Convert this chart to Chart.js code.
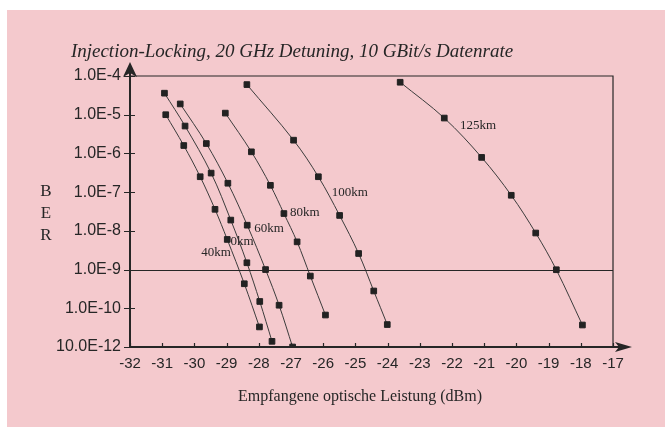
<!DOCTYPE html>
<html>
<head>
<meta charset="utf-8">
<script src="https://cdn.jsdelivr.net/npm/chart.js@4.4.1/dist/chart.umd.min.js"></script>
<style>
    html, body { margin: 0; padding: 0; background: #fff; }
    canvas { display: block; }
</style>
</head>
<body>
<canvas id="ber" width="665" height="427"></canvas>
<script>
'use strict'

// Empfangene optische Leistung (dBm) und BER je Kurve
const xA = [-30.93, -30.29, -29.48, -28.87, -28.37, -27.97, -27.59]
const yA = [3.6e-5, 5.1e-6, 3.1e-7, 1.9e-8, 1.5e-9, 1.5e-10, 1.4e-11]
const xB = [-30.89, -30.33, -29.82, -29.36, -28.98, -28.45, -27.98]
const yB = [1.0e-5, 1.6e-6, 2.5e-7, 3.6e-8, 6.0e-9, 4.3e-10, 3.3e-11]
const xC = [-30.44, -29.63, -28.96, -28.36, -27.79, -27.37, -26.95]
const yC = [1.9e-5, 1.8e-6, 1.7e-7, 1.4e-8, 1.0e-9, 1.2e-10, 1.0e-11]
const x80 = [-29.04, -28.23, -27.64, -27.22, -26.81, -26.40, -25.93]
const y80 = [1.1e-5, 1.1e-6, 1.5e-7, 2.8e-8, 5.2e-9, 6.8e-10, 6.7e-11]
const x100 = [-28.37, -26.92, -26.15, -25.49, -24.90, -24.43, -24.01]
const y100 = [6.0e-5, 2.2e-6, 2.5e-7, 2.5e-8, 2.6e-9, 2.8e-10, 3.8e-11]
const x125 = [-23.61, -22.24, -21.08, -20.16, -19.40, -18.76, -17.95]
const y125 = [6.9e-5, 8.2e-6, 7.9e-7, 8.3e-8, 8.8e-9, 9.9e-10, 3.7e-11]

const xTicks = [-32, -31, -30, -29, -28, -27, -26, -25, -24, -23, -22, -21, -20, -19, -18, -17]
const yTicks = [1e-4, 1e-5, 1e-6, 1e-7, 1e-8, 1e-9, 1e-10, 1e-11]
const yTickLabels = ['1.0E-4', '1.0E-5', '1.0E-6', '1.0E-7', '1.0E-8', '1.0E-9', '1.0E-10', '10.0E-12']
const refLine = 1e-9

const curveLabels = ['125km', '100km', '80km', '60km', '0km', '40km']
const curveLabelX = [-21.19, -25.17, -26.57, -27.68, -28.52, -29.33]
const curveLabelY = [5.1e-6, 1.0e-7, 2.9e-8, 1.12e-8, 5.15e-9, 2.68e-9]

const title = 'Injection-Locking, 20 GHz Detuning, 10 GBit/s Datenrate'
const xTitle = 'Empfangene optische Leistung (dBm)'
const yTitle = ['B', 'E', 'R']

const ink = '#262626'
const sans = "'Liberation Sans', Arial, sans-serif"
const serif = "'Liberation Serif', 'Times New Roman', serif"

const toPoints = (xs, ys) => xs.map((x, i) => ({ x: x, y: ys[i] }))

const series = [[xA, yA], [xB, yB], [xC, yC], [x80, y80], [x100, y100], [x125, y125]]

const datasets = series.map((s) => {
    return {
        data: toPoints(s[0], s[1]),
        showLine: true,
        borderColor: '#3c3c3c',
        borderWidth: 1,
        tension: 0.35,
        pointStyle: 'rect',
        pointRadius: 4,
        pointBorderWidth: 1,
        pointBackgroundColor: '#222',
        pointBorderColor: '#222'
    }
})

const decor = {
    id: 'decor',
    beforeDraw: (chart) => {
        const ctx = chart.ctx
        ctx.save()
        ctx.fillStyle = '#fff'
        ctx.fillRect(0, 0, chart.width, chart.height)
        ctx.fillStyle = '#f4c9cd'
        ctx.fillRect(7, 10, chart.width - 7, chart.height - 10)
        ctx.restore()
    },
    afterDatasetsDraw: (chart) => {
        const ctx = chart.ctx
        const sx = chart.scales.x
        const sy = chart.scales.y
        const a = chart.chartArea
        ctx.save()
        ctx.strokeStyle = ink
        ctx.fillStyle = ink

        // rahmen oben/rechts und 1E-9 linie
        ctx.lineWidth = 1.2
        ctx.beginPath()
        ctx.moveTo(a.left, a.top)
        ctx.lineTo(a.right, a.top)
        ctx.lineTo(a.right, a.bottom)
        const yRef = Math.round(sy.getPixelForValue(refLine)) + 0.5
        ctx.moveTo(a.left, yRef)
        ctx.lineTo(a.right, yRef)
        ctx.stroke()

        // achsen
        ctx.lineWidth = 2
        ctx.beginPath()
        ctx.moveTo(a.left, a.bottom)
        ctx.lineTo(a.left, a.top - 6)
        ctx.moveTo(a.left, a.bottom)
        ctx.lineTo(a.right + 8, a.bottom)
        ctx.stroke()

        // pfeile
        ctx.beginPath()
        ctx.moveTo(a.left, a.top - 14)
        ctx.lineTo(a.left + 7, a.top + 1)
        ctx.lineTo(a.left, a.top - 3)
        ctx.lineTo(a.left - 7, a.top + 1)
        ctx.closePath()
        ctx.fill()
        ctx.beginPath()
        ctx.moveTo(a.right + 19, a.bottom)
        ctx.lineTo(a.right + 2, a.bottom - 5)
        ctx.lineTo(a.right + 6, a.bottom)
        ctx.lineTo(a.right + 2, a.bottom + 5)
        ctx.closePath()
        ctx.fill()

        // ticks
        ctx.lineWidth = 1.2
        ctx.beginPath()
        yTicks.forEach((v) => {
            const y = Math.round(sy.getPixelForValue(v)) + 0.5
            ctx.moveTo(a.left - 6, y)
            ctx.lineTo(a.left + 5, y)
        })
        xTicks.forEach((v) => {
            const x = Math.round(sx.getPixelForValue(v)) + 0.5
            ctx.moveTo(x, a.bottom)
            ctx.lineTo(x, a.bottom - 4)
        })
        ctx.stroke()

        // kurvenbeschriftung
        ctx.font = '13px ' + serif
        ctx.textAlign = 'center'
        ctx.textBaseline = 'middle'
        curveLabels.forEach((t, i) => {
            ctx.fillText(t, sx.getPixelForValue(curveLabelX[i]), sy.getPixelForValue(curveLabelY[i]))
        })

        // titel
        ctx.font = 'italic 19px ' + serif
        ctx.textBaseline = 'alphabetic'
        ctx.fillText(title, 292, 57)

        ctx.font = '16px ' + serif
        ctx.fillText(xTitle, 360, 401)

        ctx.font = '17px ' + serif
        ctx.textBaseline = 'middle'
        yTitle.forEach((c, i) => {
            ctx.fillText(c, 46, 192 + i * 22)
        })
        ctx.restore()
    }
}

new Chart(document.getElementById('ber'), {
    type: 'scatter',
    data: { datasets: datasets },
    options: {
        responsive: false,
        animation: false,
        devicePixelRatio: 1,
        layout: { padding: { top: 76, right: 52, left: 0, bottom: 0 } },
        plugins: {
            legend: { display: false },
            tooltip: { enabled: false }
        },
        scales: {
            x: {
                type: 'linear',
                min: -32,
                max: -17,
                afterFit: (scale) => { scale.height = 80 },
                afterBuildTicks: (scale) => {
                    scale.ticks = xTicks.map((v) => ({ value: v }))
                },
                grid: { display: false, drawTicks: false },
                border: { display: false },
                ticks: {
                    padding: 8,
                    color: ink,
                    font: { family: sans, size: 15 },
                    maxRotation: 0,
                    autoSkip: false
                }
            },
            y: {
                type: 'logarithmic',
                min: 1e-11,
                max: 1e-4,
                afterFit: (scale) => { scale.width = 130 },
                afterBuildTicks: (scale) => {
                    scale.ticks = yTicks.map((v) => ({ value: v }))
                },
                grid: { display: false, drawTicks: false },
                border: { display: false },
                ticks: {
                    padding: 9,
                    color: ink,
                    font: { family: sans, size: 16 },
                    autoSkip: false,
                    callback: (value) => {
                        const i = yTicks.findIndex((t) => Math.abs(Math.log10(t) - Math.log10(value)) < 0.01)
                        return i >= 0 ? yTickLabels[i] : ''
                    }
                }
            }
        }
    },
    plugins: [decor]
})
</script>
</body>
</html>
